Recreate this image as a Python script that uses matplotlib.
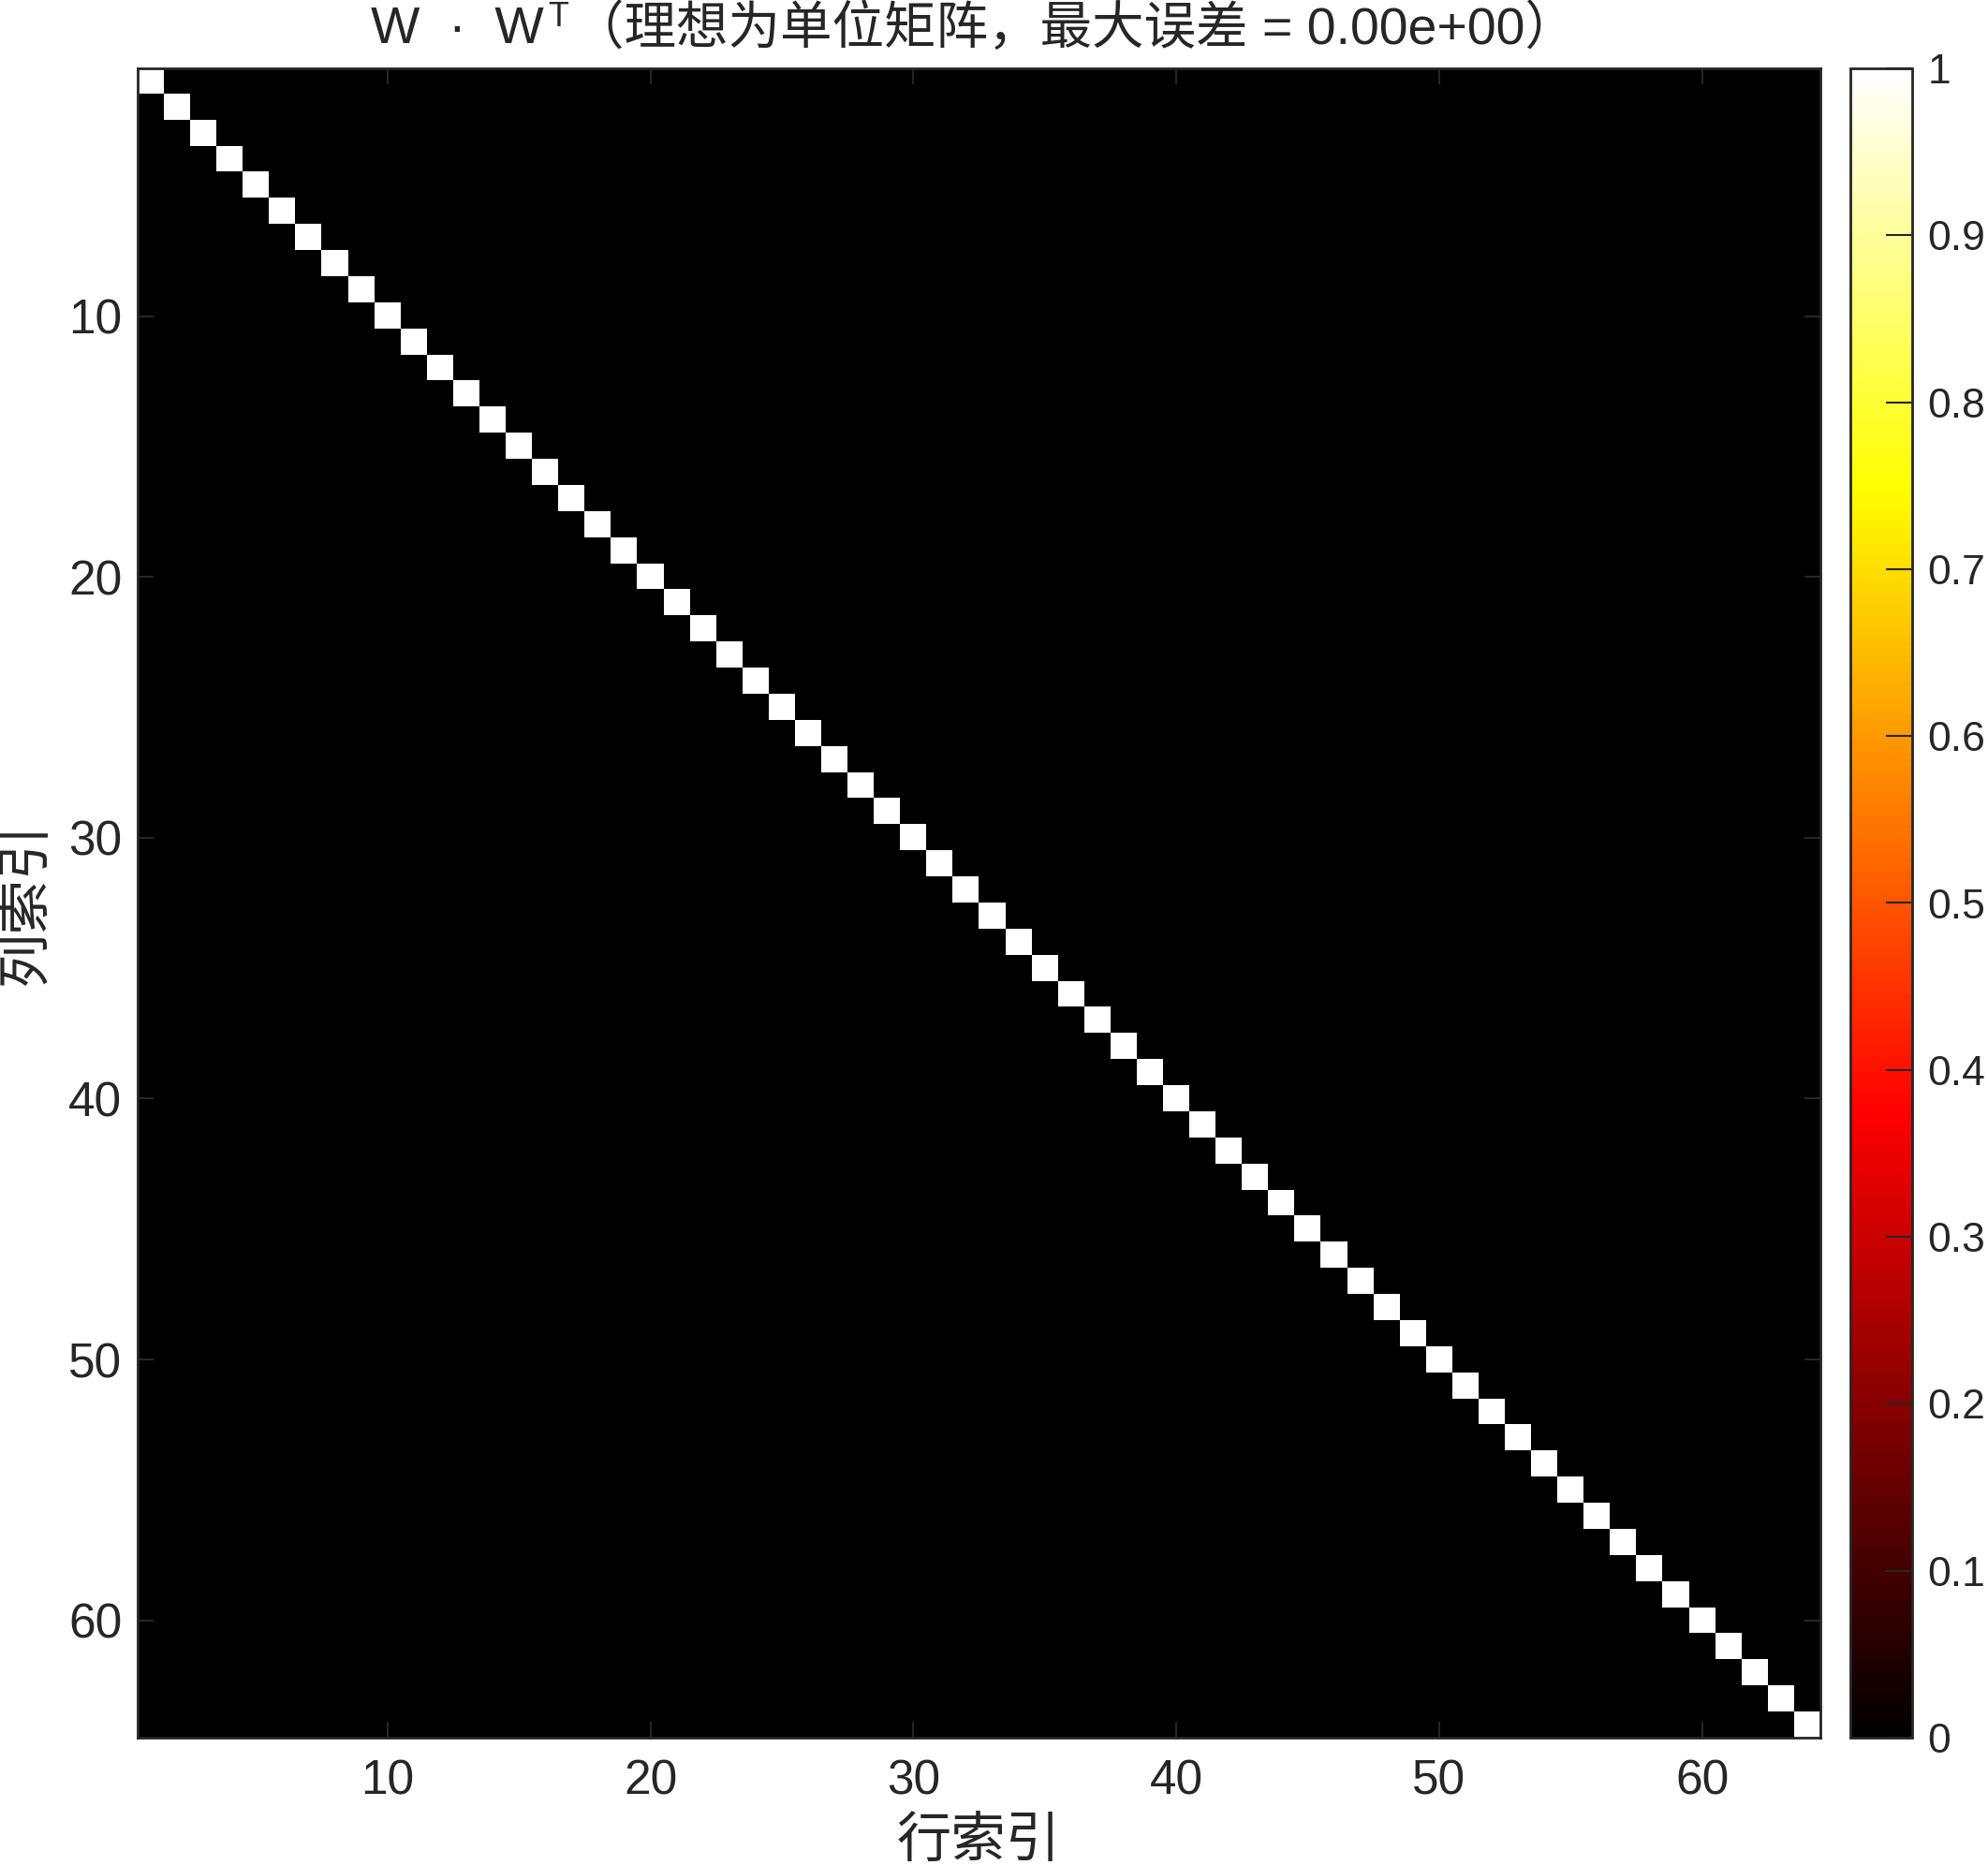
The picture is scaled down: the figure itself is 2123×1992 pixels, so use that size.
import numpy as np
import matplotlib
matplotlib.use('Agg')
import matplotlib.pyplot as plt
from matplotlib.colors import LinearSegmentedColormap

plt.rcParams['font.family'] = ['Liberation Sans', 'Noto Sans CJK SC', 'DejaVu Sans']

# 数据：W·W^T（正交矩阵，结果为 64x64 单位矩阵）
n = 64
diag_vals = [1.0] * n
W_WT = np.diag(diag_vals)
max_err = 0.0
ticks = [10, 20, 30, 40, 50, 60]
cbar_ticks = [0, 0.1, 0.2, 0.3, 0.4, 0.5, 0.6, 0.7, 0.8, 0.9, 1]
cbar_labels = ['0', '0.1', '0.2', '0.3', '0.4', '0.5', '0.6', '0.7', '0.8', '0.9', '1']

# MATLAB 风格的 hot 色图（从纯黑开始）
hot_m = LinearSegmentedColormap.from_list(
    'hot_m', [(0, 'black'), (0.375, 'red'), (0.75, 'yellow'), (1, 'white')], N=256)

W, H = 2123, 1992
fig = plt.figure(figsize=(W / 100, H / 100), dpi=100)
gray = '#262626'

ax = fig.add_axes([147 / W, 1 - 1856 / H, (1944 - 147) / W, (1856 - 73) / H])
im = ax.imshow(W_WT, cmap=hot_m, vmin=0, vmax=1, aspect='auto',
               extent=[0.5, n + 0.5, n + 0.5, 0.5], interpolation='nearest')
ax.set_xticks(ticks)
ax.set_yticks(ticks)
ax.tick_params(direction='in', length=12, width=1.5, colors=gray,
               labelsize=37, top=True, right=True)
ax.tick_params(axis='x', pad=16)
ax.tick_params(axis='y', pad=12)
for s in ax.spines.values():
    s.set_color(gray)
    s.set_linewidth(2)
ax.set_xlabel('行索引', fontsize=42, color=gray, labelpad=10)
ax.set_ylabel('列索引', fontsize=42, color=gray, labelpad=12)

cax = fig.add_axes([1976 / W, 1 - 1856 / H, 66 / W, (1856 - 73) / H])
cb = fig.colorbar(im, cax=cax, ticks=cbar_ticks)
cb.ax.set_yticklabels(cbar_labels)
cb.ax.tick_params(direction='in', length=20, width=1.5, colors=gray,
                  labelsize=32, pad=12)
cb.outline.set_edgecolor(gray)
cb.outline.set_linewidth(2)

# 标题：分段绘制，以便上标 T 与中文字体同时使用
parts = [('W  \u00b7  W', 40, 0), ('T', 26, 14),
         ('\uff08理想为单位矩阵，最大误差 = %.2e\uff09' % max_err, 40, 0)]
renderer = fig.canvas.get_renderer()
y0 = 1 - 32 / H
texts = []
x = 0
for s, fs, dy in parts:
    t = fig.text(x, y0 + dy / H, s, fontsize=fs, color=gray, ha='left', va='center')
    w = t.get_window_extent(renderer).width / W
    texts.append((t, x))
    x += w + 4 / W
total = x
x_start = 396 / W
for t, off in texts:
    t.set_x(x_start + off)

fig.savefig('out.png', dpi=100, facecolor='white')
